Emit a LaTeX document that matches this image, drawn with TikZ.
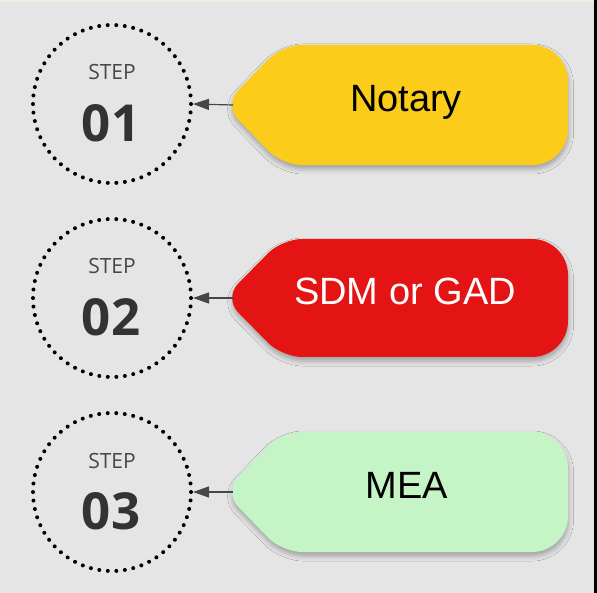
\documentclass[tikz,border=0pt]{standalone}
\usepackage{fontspec}
\setmainfont{Liberation Sans}
\newfontfamily\stepfont{Open Sans}
\usetikzlibrary{arrows.meta,positioning,shadows.blur}
\definecolor{panelgray}{HTML}{E5E5E5}
\definecolor{panelcream}{HTML}{EFEFE4}
\definecolor{notaryyellow}{HTML}{FBCC19}
\definecolor{sdmred}{HTML}{E51414}
\definecolor{meagreen}{HTML}{C5F5C7}
\tikzset{
  stepring/.style={circle, draw=black, line width=4pt, line cap=round,
                   dash pattern=on 0pt off 8.56pt, minimum size=158pt, inner sep=0pt},
  steplbl/.style={font=\stepfont\fontsize{21}{21}\selectfont, text=black!72,
                  anchor=base, inner sep=0pt},
  stepnum/.style={font=\stepfont\bfseries\fontsize{51}{51}\selectfont, text=black!80,
                  anchor=base, inner sep=0pt},
  tagshape/.style={rounded corners=20pt,
                   blur shadow={shadow xshift=0.5pt, shadow yshift=-4pt,
                                shadow blur radius=5pt, shadow opacity=30}},
  taglbl/.style={font=\fontsize{38}{38}\selectfont, anchor=base, inner sep=0pt},
  arrow/.style={-{Triangle[length=16pt,width=11pt]}, line width=1.2pt, draw=black!72,
                fill=black!72}
}
\begin{document}
\begin{tikzpicture}[x=1pt,y=-1pt]
  % panel
  \fill[panelgray] (0,0) rectangle (597,593);
  \fill[panelcream] (0,0) rectangle (594,2);
  \fill[black] (594,0) rectangle (597,593);
  \useasboundingbox (0,0) rectangle (597,593);

  % step rings
  \node[stepring] (step1) at (112,104) {};
  \node[steplbl] (lbl1) at (112,80) {STEP};
  \node[stepnum] (num1) at (111,141.5) {01};

  \node[stepring] (step2) at (112,298) {};
  \node[steplbl] (lbl2) at (112,274) {STEP};
  \node[stepnum] (num2) at (111,335.5) {02};

  \node[stepring] (step3) at (112,492) {};
  \node[steplbl] (lbl3) at (112,468) {STEP};
  \node[stepnum] (num3) at (111,529.5) {03};

  % tags
  \fill[tagshape, notaryyellow] (420,45) [rounded corners=36pt] -- (568,45) -- (568,165)
    [rounded corners=20pt] -- (282,165) -- (224,105) -- (282,45) -- cycle;
  \fill[tagshape, sdmred] (420,239) [rounded corners=36pt] -- (568,239) -- (568,357)
    [rounded corners=20pt] -- (282,357) -- (224,298) -- (282,239) -- cycle;
  \fill[tagshape, meagreen] (420,432) [rounded corners=36pt] -- (568,432) -- (568,552)
    [rounded corners=20pt] -- (282,552) -- (224,492) -- (282,432) -- cycle;
  \coordinate (notarytip) at (233,105);
  \coordinate (sdmtip) at (233,298);
  \coordinate (meatip) at (233,492);

  \node[taglbl, text=black] (notary) at (406,111.5) {Notary};
  \node[taglbl, text=white] (sdm) at (405,304.5) {SDM or GAD};
  \node[taglbl, text=black] (mea) at (407,498.5) {MEA};

  \draw[arrow] (notarytip) -- (step1.east);
  \draw[arrow] (sdmtip) -- (step2.east);
  \draw[arrow] (meatip) -- (step3.east);
\end{tikzpicture}
\end{document}
